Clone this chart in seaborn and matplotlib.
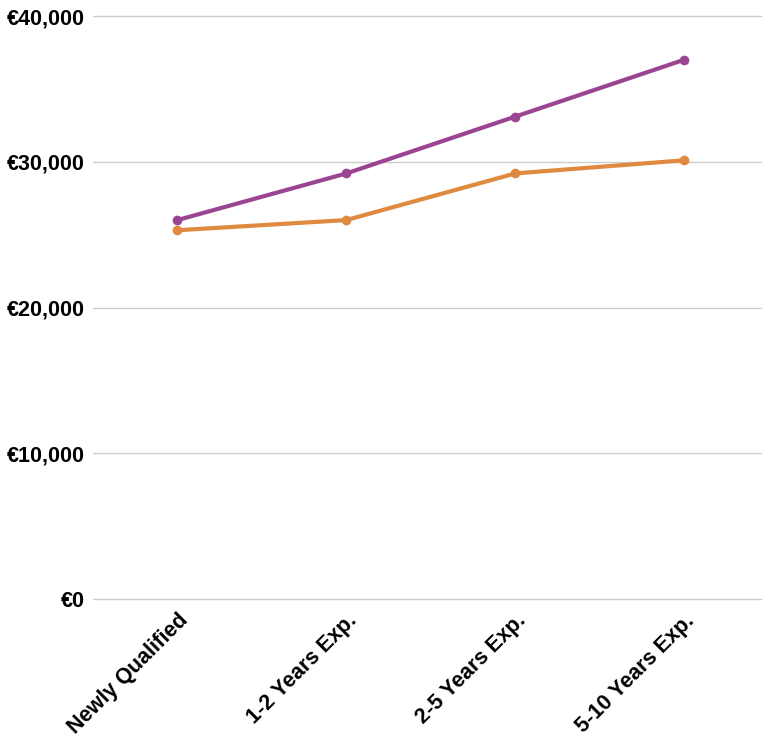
import matplotlib
matplotlib.use("Agg")
import matplotlib.pyplot as plt
import seaborn as sns
import pandas as pd
from matplotlib.ticker import FuncFormatter

categories = ["Newly Qualified", "1-2 Years Exp.", "2-5 Years Exp.", "5-10 Years Exp."]
series_a = [26000, 29200, 33100, 37000]
series_b = [25300, 26000, 29200, 30100]
yticks = [0, 10000, 20000, 30000, 40000]

sns.set_theme(style="white")
plt.rcParams['font.family'] = ['Liberation Sans', 'DejaVu Sans']

df = pd.DataFrame({
    "cat": categories * 2,
    "value": series_a + series_b,
    "series": ["A"] * 4 + ["B"] * 4,
})

fig = plt.figure(figsize=(7.62, 7.37), dpi=100)
ax = fig.add_axes([93/762, 1 - 599/737, 1 - 93/762, (599 - 16)/737])

sns.lineplot(data=df, x="cat", y="value", hue="series", sort=False,
             palette={"A": "#9B4592", "B": "#E08A40"}, linewidth=3,
             marker="o", markersize=7, markeredgewidth=0, legend=False, ax=ax)

ax.set_ylim(0, 40000)
ax.set_xlim(-0.5, 3.46)
ax.set_yticks(yticks)
ax.yaxis.set_major_formatter(FuncFormatter(lambda v, p: "€{:,.0f}".format(v)))
ax.grid(axis="y", color="#cccccc", linewidth=1)
ax.set_axisbelow(True)
for gl in ax.get_ygridlines():
    gl.set_clip_on(False)
for s in ax.spines.values():
    s.set_visible(False)
ax.set_xlabel("")
ax.set_ylabel("")
ax.tick_params(axis="both", length=0, labelsize=15.5, labelcolor="black")
ax.tick_params(axis="y", pad=6)
ax.tick_params(axis="x", pad=8)
for lbl in ax.get_yticklabels():
    lbl.set_fontweight("bold")
for lbl in ax.get_xticklabels():
    lbl.set_fontweight("bold")
    lbl.set_rotation(45)
    lbl.set_ha("right")
    lbl.set_rotation_mode("anchor")

fig.savefig("out.png", dpi=100)
